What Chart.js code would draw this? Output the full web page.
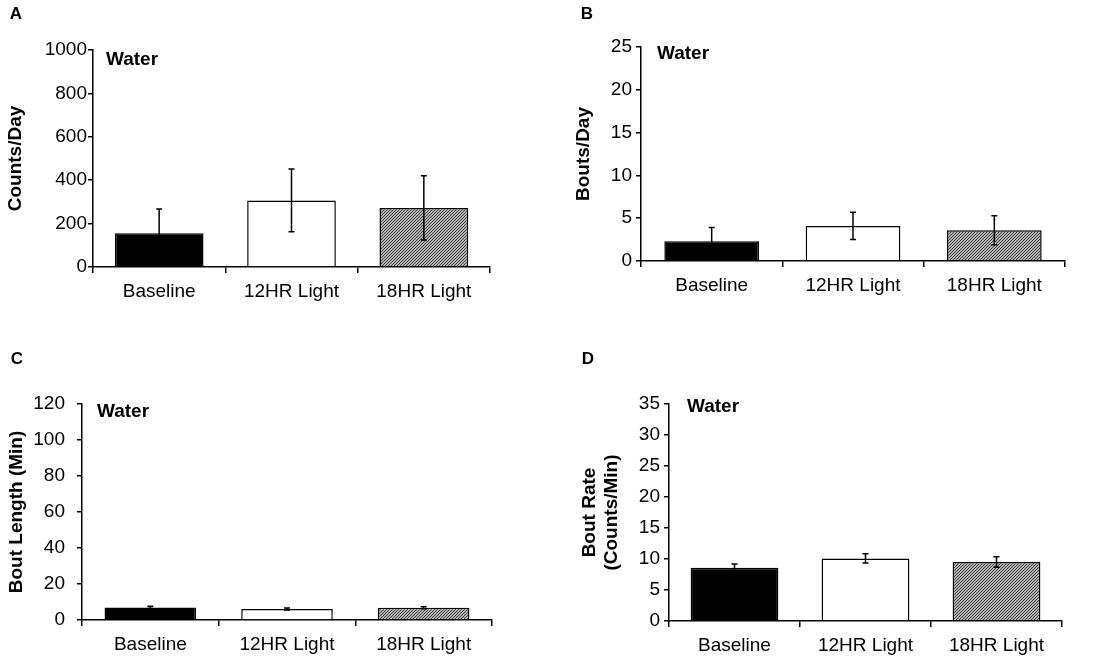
<!DOCTYPE html>
<html>
<head>
<meta charset="utf-8">
<script src="https://cdn.jsdelivr.net/npm/chart.js@4.4.1/dist/chart.umd.min.js"></script>
<style>
  html, body { margin: 0; padding: 0; background: #fff; }
  .panel { position: absolute; }
</style>
</head>
<body>
<div class="panel" style="left:0;top:0"><canvas id="chartA" width="550" height="330"></canvas></div>
<div class="panel" style="left:550px;top:0"><canvas id="chartB" width="550" height="330"></canvas></div>
<div class="panel" style="left:0;top:330px"><canvas id="chartC" width="550" height="333"></canvas></div>
<div class="panel" style="left:550px;top:330px"><canvas id="chartD" width="550" height="333"></canvas></div>
<script>
// groups on the x axis
const categories = ['Baseline', '12HR Light', '18HR Light'];

// A - counts per day (mean, error)
const countsPerDay = [155, 307, 272];
const countsPerDayErr = [112, 145, 148];

// B - bouts per day
const boutsPerDay = [2.3, 4.1, 3.6];
const boutsPerDayErr = [1.6, 1.6, 1.7];

// C - bout length (min)
const boutLength = [7.0, 6.1, 6.8];
const boutLengthErr = [0.6, 0.5, 0.5];

// D - bout rate (counts/min)
const boutRate = [8.6, 10.1, 9.5];
const boutRateErr = [0.6, 0.75, 0.85];

// y axis ranges
const yMaxA = 1000, yStepA = 200;
const yMaxB = 25, yStepB = 5;
const yMaxC = 120, yStepC = 20;
const yMaxD = 35, yStepD = 5;

const FONT = "'Liberation Sans', Arial, sans-serif";

// diagonal hatch for the 18HR bar
function hatch() {
  let c = document.createElement('canvas');
  c.width = 3; c.height = 3;
  let g = c.getContext('2d');
  g.fillStyle = '#b4b4b4';
  g.fillRect(0, 0, 3, 3);
  g.fillStyle = '#3c3c3c';
  // one pixel per row, stepping up-right -> "/" lines
  g.fillRect(0, 2, 1, 1);
  g.fillRect(1, 1, 1, 1);
  g.fillRect(2, 0, 1, 1);
  return g.createPattern(c, 'repeat');
}

const errorBars = {
  id: 'errorBars',
  afterDatasetsDraw(chart) {
    let ctx = chart.ctx, y = chart.scales.y;
    let ds = chart.data.datasets[0];
    let meta = chart.getDatasetMeta(0);
    ctx.save();
    ctx.strokeStyle = '#000';
    ctx.lineWidth = 1.5;
    meta.data.forEach(function(bar, i) {
      let top = y.getPixelForValue(ds.data[i] + ds.errors[i]);
      let bot = y.getPixelForValue(ds.data[i] - ds.errors[i]);
      ctx.beginPath();
      ctx.moveTo(bar.x, top); ctx.lineTo(bar.x, bot);
      ctx.moveTo(bar.x - 3, top); ctx.lineTo(bar.x + 3, top);
      ctx.moveTo(bar.x - 3, bot); ctx.lineTo(bar.x + 3, bot);
      ctx.stroke();
    });
    ctx.restore();
  }
};

const panelText = {
  id: 'panelText',
  afterDraw(chart, args, o) {
    let ctx = chart.ctx, a = chart.chartArea;
    ctx.save();
    ctx.fillStyle = '#000';
    ctx.textBaseline = 'middle';
    ctx.textAlign = 'center';
    ctx.font = 'bold 17px ' + FONT;
    ctx.fillText(o.letter, o.lx, o.ly);
    ctx.textAlign = 'left';
    ctx.font = 'bold 19px ' + FONT;
    ctx.fillText('Water', a.left + o.wx, a.top + o.wy);
    ctx.restore();
  }
};

function makeChart(id, values, errs, yMax, yStep, yTitle, p) {
  let ctx = document.getElementById(id).getContext('2d');
  return new Chart(ctx, {
    type: 'bar',
    data: {
      labels: categories,
      datasets: [{
        data: values,
        errors: errs,
        backgroundColor: ['#000', '#fff', hatch()],
        borderColor: '#000',
        borderWidth: 1.5,
        categoryPercentage: 1,
        barPercentage: 0.67
      }]
    },
    options: {
      responsive: false,
      animation: false,
      layout: { padding: { left: p.left, top: p.top, right: p.right, bottom: p.bottom } },
      plugins: {
        legend: { display: false },
        tooltip: { enabled: false },
        panelText: { letter: p.letter, lx: p.lx, ly: p.ly, wx: p.wx, wy: p.wy }
      },
      scales: {
        x: {
          grid: { offset: true, drawOnChartArea: false, drawTicks: true, tickLength: 6, color: '#000', lineWidth: 1.5 },
          border: { color: '#000', width: 1.5 },
          ticks: { color: '#000', font: { family: FONT, size: 19 }, padding: 7, maxRotation: 0, autoSkip: false },
          afterFit: function(s) { s.height = 40; }
        },
        y: {
          min: 0,
          max: yMax,
          grid: { drawOnChartArea: false, drawTicks: true, tickLength: 5, color: '#000', lineWidth: 1.5 },
          border: { color: '#000', width: 1.5 },
          ticks: {
            stepSize: yStep, color: '#000', font: { family: FONT, size: 19 }, padding: p.tickPad,
            callback: function(v) { return String(v); }
          },
          title: { display: true, text: yTitle, color: '#000', padding: 0, font: { family: FONT, size: 19, weight: 'bold' } },
          afterFit: function(s) { s.width = p.yWidth; }
        }
      }
    },
    plugins: [errorBars, panelText]
  });
}

makeChart('chartA', countsPerDay, countsPerDayErr, yMaxA, yStepA, 'Counts/Day',
  { left: 4, top: 50, right: 60, bottom: 23, yWidth: 89, tickPad: 1, letter: 'A', lx: 16, ly: 14, wx: 13, wy: 10 });
makeChart('chartB', boutsPerDay, boutsPerDayErr, yMaxB, yStepB, 'Bouts/Day',
  { left: 22, top: 47, right: 35, bottom: 29, yWidth: 69, tickPad: 4, letter: 'B', lx: 37, ly: 14, wx: 16, wy: 7 });
makeChart('chartC', boutLength, boutLengthErr, yMaxC, yStepC, 'Bout Length (Min)',
  { left: 5, top: 74, right: 58, bottom: 3, yWidth: 77, tickPad: 12, letter: 'C', lx: 17, ly: 29, wx: 15, wy: 8 });
makeChart('chartD', boutRate, boutRateErr, yMaxD, yStepD, ['Bout Rate', '(Counts/Min)'],
  { left: 28, top: 74, right: 38, bottom: 2, yWidth: 91, tickPad: 4, letter: 'D', lx: 38, ly: 29, wx: 18, wy: 3 });
</script>
</body>
</html>
